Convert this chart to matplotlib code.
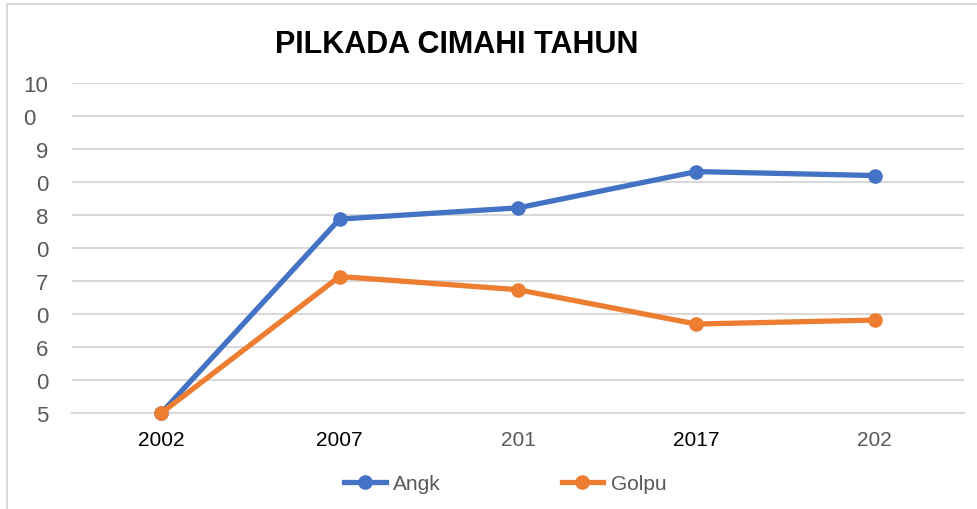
import matplotlib.pyplot as plt
import matplotlib.patches as patches

# data
tahun = ["2002", "2007", "201", "2017", "202"]
angka = [50.0, 79.4, 81.1, 86.6, 86.0]
golput = [50.0, 70.7, 68.7, 63.5, 64.1]
y_ticks = [50, 55, 60, 65, 70, 75, 80, 85, 90, 95, 100]
# the "0" under "10" sits further left, padded with a figure space
y_labels = ["5", "0", "6", "0", "7", "0", "8", "0", "9", "0\u2007", "10"]
x_label_colors = ["black", "black", "#595959", "black", "#595959"]

plt.rcParams['font.family'] = ['Liberation Sans', 'DejaVu Sans']

fig = plt.figure(figsize=(9.77, 5.10), dpi=100)
ax = fig.add_axes([0.0737, 0.188, 0.913, 0.647])

x = range(len(tahun))
ax.plot(x, angka, color='#4472C4', lw=3.8, marker='o', ms=9.5, label='Angk',
        clip_on=False, zorder=3)
ax.plot(x, golput, color='#ED7D31', lw=3.8, marker='o', ms=9.5, label='Golpu',
        clip_on=False, zorder=4)

ax.set_xlim(-0.5, len(tahun) - 0.5)
ax.set_ylim(50, 100)
ax.set_yticks(y_ticks)
ax.set_yticklabels(y_labels, fontsize=16, color='#595959')
ax.set_xticks(list(x))
ax.set_xticklabels(tahun, fontsize=15)
for lab, c in zip(ax.get_xticklabels(), x_label_colors):
    lab.set_color(c)

ax.tick_params(axis='y', length=0, pad=17)
ax.tick_params(axis='x', length=0, pad=12)
ax.grid(axis='y', color='#D9D9D9', lw=1.5)
ax.set_axisbelow(True)
for s in ['top', 'right', 'left']:
    ax.spines[s].set_visible(False)
ax.spines['bottom'].set_color('#D9D9D9')
ax.spines['bottom'].set_linewidth(1.5)

fig.text(0.467, 0.912, "PILKADA CIMAHI TAHUN", fontsize=22, fontweight='bold',
         ha='center', va='center', color='black')

fig.legend(loc='center', bbox_to_anchor=(0.517, 0.05), ncol=2, frameon=False,
           fontsize=15, handlelength=2.0, handletextpad=0.35, columnspacing=5.8,
           labelcolor='#595959')

# chart border
fig.patches.append(patches.Rectangle((0.007, -0.05), 1.1, 1.04, transform=fig.transFigure,
                                     fill=False, edgecolor='#D9D9D9', lw=1.5))

fig.savefig('out.png', dpi=100)
